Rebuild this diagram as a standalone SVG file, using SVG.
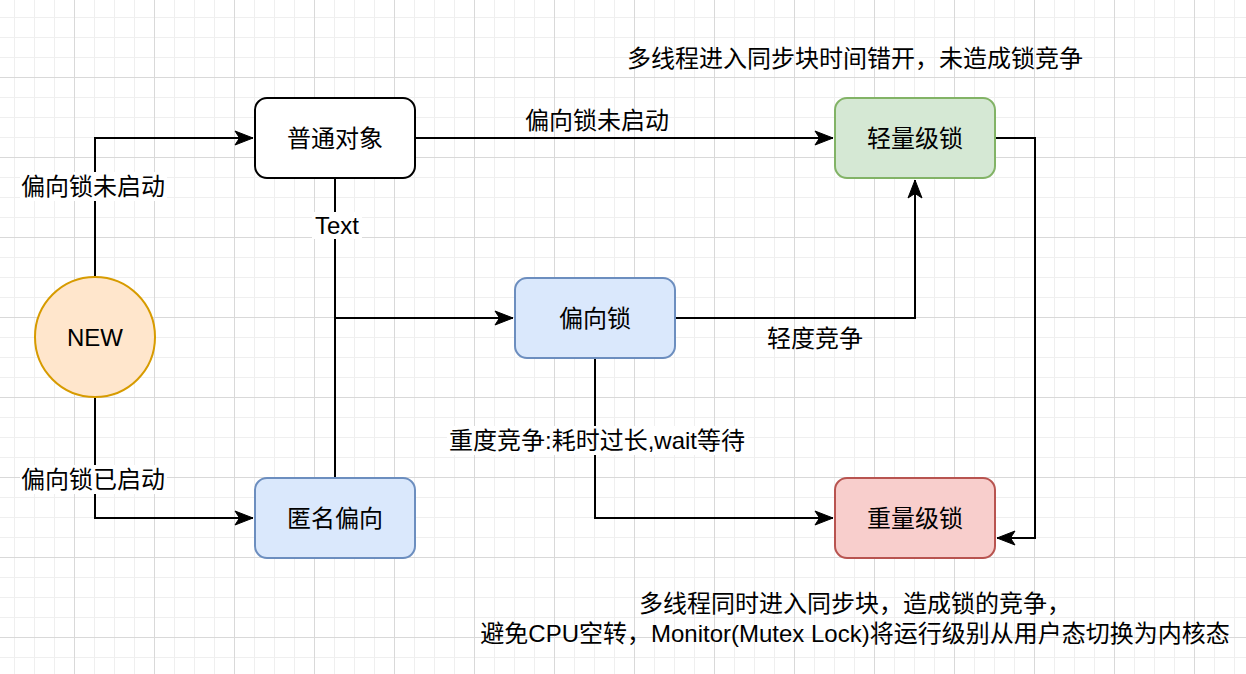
<svg xmlns="http://www.w3.org/2000/svg" width="1246" height="674" viewBox="0 0 1246 674">
<defs>
<pattern id="gMinor" patternUnits="userSpaceOnUse" x="14" y="17" width="20" height="20">
<rect x="0" y="0" width="1" height="20" fill="#efefef"/>
<rect x="0" y="0" width="20" height="1" fill="#efefef"/>
</pattern>
<pattern id="gMajor" patternUnits="userSpaceOnUse" x="74" y="77" width="80" height="80">
<rect x="0" y="0" width="1" height="80" fill="#d9d9d9"/>
<rect x="0" y="0" width="80" height="1" fill="#d9d9d9"/>
</pattern>
<marker id="arr" markerUnits="userSpaceOnUse" markerWidth="20" markerHeight="16" refX="18" refY="8" orient="auto" overflow="visible">
<path d="M0,1 L18,8 L0,15 L4.5,8 Z" fill="#000" stroke="#000" stroke-width="1"/>
</marker>
<style>
text{font-family:"Liberation Sans","Noto Sans CJK SC",sans-serif;font-size:24px;fill:#000;}
.n text{text-anchor:middle;dominant-baseline:central;}
.lbl{text-anchor:middle;dominant-baseline:central;}
.c{fill:none;stroke:#000;stroke-width:2;}
.bg{fill:#fff;}
</style>
</defs>
<rect width="1246" height="674" fill="#fff"/>
<rect width="1246" height="674" fill="url(#gMinor)"/>
<rect width="1246" height="674" fill="url(#gMajor)"/>

<g id="connectors">
<path class="c" d="M95,277 V138 H253" marker-end="url(#arr)"/>
<path class="c" d="M95,397 V518 H253" marker-end="url(#arr)"/>
<path class="c" d="M415,138 H833" marker-end="url(#arr)"/>
<path class="c" d="M335,178 V478"/>
<path class="c" d="M335,318 H513" marker-end="url(#arr)"/>
<path class="c" d="M675,318 H915 V180" marker-end="url(#arr)"/>
<path class="c" d="M595,358 V518 H833" marker-end="url(#arr)"/>
<path class="c" d="M995,138 H1035 V538 H997" marker-end="url(#arr)"/>
<rect class="bg" x="20" y="172" width="147" height="29"/>
<text class="lbl" x="93" y="186">偏向锁未启动</text>
<rect class="bg" x="20" y="465" width="147" height="29"/>
<text class="lbl" x="93" y="479">偏向锁已启动</text>
<text class="lbl" x="597" y="120">偏向锁未启动</text>
<rect class="bg" x="312" y="212" width="50" height="27"/>
<text class="lbl" x="337" y="225">Text</text>
<text class="lbl" x="815" y="338">轻度竞争</text>
<rect class="bg" x="447" y="426" width="301" height="29"/>
<text class="lbl" x="597" y="440">重度竞争:耗时过长,wait等待</text>
</g>

<g id="node-new" class="n">
<circle cx="95" cy="337" r="60" fill="#ffe6cc" stroke="#d79b00" stroke-width="2"/>
<text x="95" y="337">NEW</text>
</g>
<g id="node-plain" class="n">
<rect x="255" y="98" width="160" height="80" rx="12" fill="#fff" stroke="#000" stroke-width="2"/>
<text x="335" y="138">普通对象</text>
</g>
<g id="node-light" class="n">
<rect x="835" y="98" width="160" height="80" rx="12" fill="#d5e8d4" stroke="#82b366" stroke-width="2"/>
<text x="915" y="138">轻量级锁</text>
</g>
<g id="node-biased" class="n">
<rect x="515" y="278" width="160" height="80" rx="12" fill="#dae8fc" stroke="#6c8ebf" stroke-width="2"/>
<text x="595" y="318">偏向锁</text>
</g>
<g id="node-anon" class="n">
<rect x="255" y="478" width="160" height="80" rx="12" fill="#dae8fc" stroke="#6c8ebf" stroke-width="2"/>
<text x="335" y="518">匿名偏向</text>
</g>
<g id="node-heavy" class="n">
<rect x="835" y="478" width="160" height="80" rx="12" fill="#f8cecc" stroke="#b85450" stroke-width="2"/>
<text x="915" y="518">重量级锁</text>
</g>

<g id="notes">
<text class="lbl" x="855" y="58">多线程进入同步块时间错开，未造成锁竞争</text>
<text class="lbl" x="855" y="603">多线程同时进入同步块，造成锁的竞争，</text>
<text class="lbl" x="855" y="633">避免CPU空转，Monitor(Mutex Lock)将运行级别从用户态切换为内核态</text>
</g>
</svg>
